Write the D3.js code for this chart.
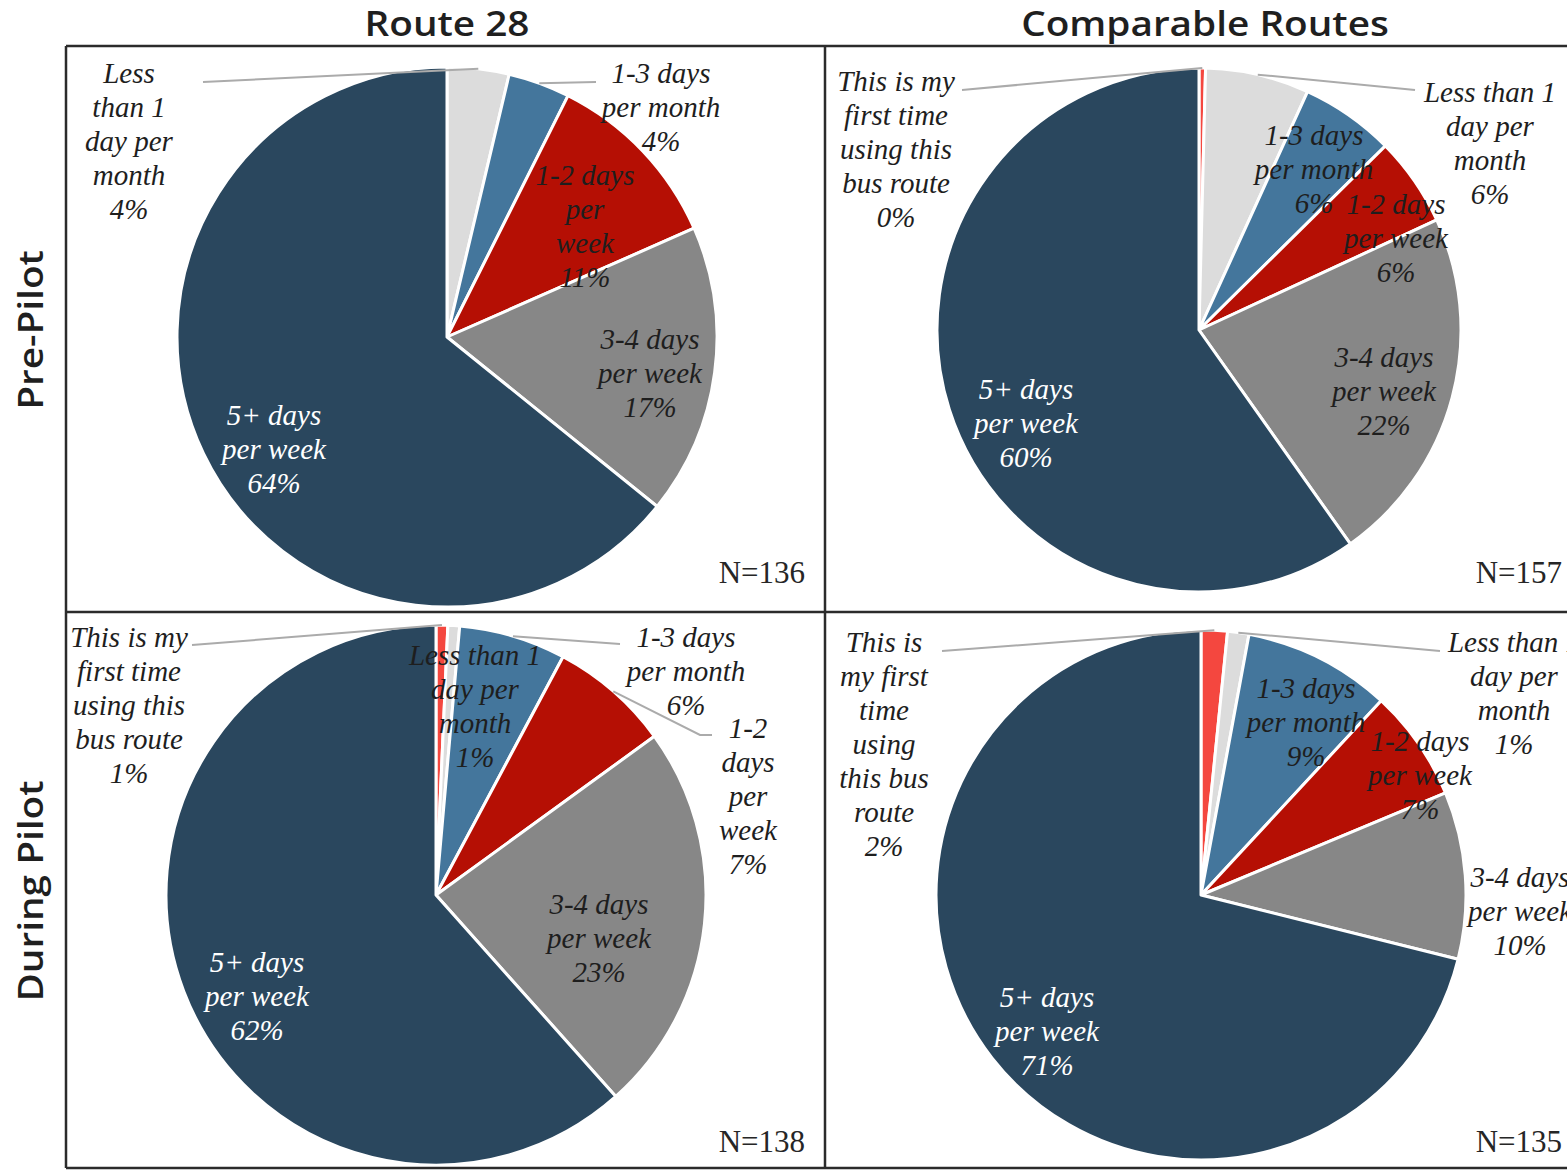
<!DOCTYPE html>
<html>
<head>
<meta charset="utf-8">
<script src="https://cdn.jsdelivr.net/npm/d3@7"></script>
<style>
  html, body { margin: 0; padding: 0; background: #fff; }
  svg { display: block; }
</style>
</head>
<body>
<svg id="chart" width="1567" height="1171"></svg>
<script>
// ---------------- DATA ----------------
const categories = [
  "This is my first time using this bus route",
  "Less than 1 day per month",
  "1-3 days per month",
  "1-2 days per week",
  "3-4 days per week",
  "5+ days per week"
];
const columnTitles = ["Route 28", "Comparable Routes"];
const rowTitles = ["Pre-Pilot", "During Pilot"];

// percent shares (null = category not present)
const route28Pre      = [null, 3.7, 3.7, 11.0, 17.4, 64.2];
const comparablePre   = [0.4, 6.4, 5.8, 5.5, 22.1, 59.8];
const route28During   = [0.7, 0.7, 6.4, 7.2, 23.4, 61.6];
const comparableDuring= [1.6, 1.3, 9.0, 6.8, 10.2, 71.1];
const sampleSizes = [136, 157, 138, 135];

// ---------------- STYLE / LAYOUT ----------------
const colors = ["#F4473F", "#DCDCDC", "#44769C", "#B50F04", "#878787", "#2A475E"];
const seriesList = [route28Pre, comparablePre, route28During, comparableDuring];

// label wrapping per panel (text layout)
const wraps = [
  [null, ["Less","than 1","day per","month"], ["1-3 days","per month"], ["1-2 days","per","week"], ["3-4 days","per week"], ["5+ days","per week"]],
  [["This is my","first time","using this","bus route"], ["Less than 1","day per","month"], ["1-3 days","per month"], ["1-2 days","per week"], ["3-4 days","per week"], ["5+ days","per week"]],
  [["This is my","first time","using this","bus route"], ["Less than 1","day per","month"], ["1-3 days","per month"], ["1-2","days","per","week"], ["3-4 days","per week"], ["5+ days","per week"]],
  [["This is","my first","time","using","this bus","route"], ["Less than 1","day per","month"], ["1-3 days","per month"], ["1-2 days","per week"], ["3-4 days","per week"], ["5+ days","per week"]]
];
// pie centre (absolute) and radius
const pieGeom = [
  {cx: 447, cy: 337, r: 270},
  {cx: 1199, cy: 330, r: 262},
  {cx: 436, cy: 895, r: 270},
  {cx: 1201, cy: 895, r: 265}
];
// label offsets from pie centre (first line), optional leader points
const labelPos = [
  [null, {x:-318,y:-264, lead:[[-244,-255]]}, {x:214,y:-264, lead:[[149,-255]]}, {x:138,y:-162}, {x:203,y:2}, {x:-173,y:78}],
  [{x:-303,y:-249, lead:[[-237,-240]]}, {x:291,y:-238, lead:[[216,-240]]}, {x:115,y:-195}, {x:197,y:-126}, {x:185,y:27}, {x:-173,y:59}],
  [{x:-307,y:-258, lead:[[-244,-250]]}, {x:39,y:-240}, {x:250,y:-258, lead:[[184,-251]]}, {x:312,y:-167, lead:[[264,-160],[276,-160]]}, {x:163,y:9}, {x:-179,y:67}],
  [{x:-317,y:-253, lead:[[-259,-244]]}, {x:313,y:-253, lead:[[239,-244]]}, {x:105,y:-207}, {x:219,y:-154}, {x:319,y:-18}, {x:-154,y:102}]
];

const gridX = [66, 825, 1584];
const gridY = [46, 612, 1168];
const nBaselineOffset = [29, 16];

const labelFont = "'Liberation Serif', 'DejaVu Serif', serif";
const titleFont = "'Open Sans', 'DejaVu Sans', sans-serif";
const fs = 29, lh = 34;

const svg = d3.select("#chart");

// column titles
svg.selectAll("text.coltitle").data(columnTitles).join("text")
  .attr("class", "coltitle")
  .attr("transform", (d, i) => `translate(${i === 0 ? 447 : 1205}, 36) scale(1.14, 1)`)
  .attr("text-anchor", "middle")
  .attr("font-family", titleFont).attr("font-weight", 600).attr("font-size", 34)
  .attr("fill", "#1f1f1f")
  .text(d => d);

// row titles
svg.selectAll("text.rowtitle").data(rowTitles).join("text")
  .attr("class", "rowtitle")
  .attr("transform", (d, i) => `translate(43, ${i === 0 ? 330 : 891}) rotate(-90) scale(1.14, 1)`)
  .attr("text-anchor", "middle")
  .attr("font-family", titleFont).attr("font-weight", 600).attr("font-size", 34)
  .attr("fill", "#1f1f1f")
  .text(d => d);

const pie = d3.pie().sort(null).value(d => d.value);
const plot = svg.append("g");

seriesList.forEach((series, p) => {
  const g0 = pieGeom[p];
  const entries = series.map((v, i) => ({cat: i, value: v})).filter(d => d.value !== null);
  const arcs = pie(entries);
  const arc = d3.arc().innerRadius(0).outerRadius(g0.r);
  const edgeArc = d3.arc().innerRadius(g0.r).outerRadius(g0.r);
  const g = plot.append("g").attr("transform", `translate(${g0.cx},${g0.cy})`);

  g.selectAll("path.slice").data(arcs).join("path")
    .attr("class", "slice")
    .attr("d", arc)
    .attr("fill", d => colors[d.data.cat])
    .attr("stroke", "#fff").attr("stroke-width", 3).attr("stroke-linejoin", "round");

  // leader lines
  arcs.forEach(a => {
    const lp = labelPos[p][a.data.cat];
    if (lp && lp.lead) {
      const start = edgeArc.centroid(a);
      const pts = [start].concat(lp.lead);
      g.append("path")
        .attr("d", d3.line()(pts))
        .attr("fill", "none").attr("stroke", "#ABABAB").attr("stroke-width", 2);
    }
  });

  // labels
  arcs.forEach(a => {
    const lp = labelPos[p][a.data.cat];
    if (!lp) return;
    const lines = wraps[p][a.data.cat].concat([Math.round(a.data.value) + "%"]);
    const t = g.append("text")
      .attr("font-family", labelFont).attr("font-style", "italic").attr("font-size", fs)
      .attr("text-anchor", "middle")
      .attr("fill", a.data.cat === 5 ? "#ffffff" : "#1e1e1e");
    lines.forEach((ln, k) => {
      t.append("tspan").attr("x", lp.x).attr("y", lp.y + k * lh).attr("dy", "0.33em").text(ln);
    });
  });

  // N label
  const col = p % 2, row = Math.floor(p / 2);
  svg.append("text")
    .attr("x", col === 0 ? gridX[1] - 20 : 1562)
    .attr("y", gridY[row + 1] - nBaselineOffset[row])
    .attr("text-anchor", "end")
    .attr("font-family", labelFont).attr("font-size", 31)
    .attr("fill", "#262626")
    .text("N=" + sampleSizes[p]);
});

// grid borders
const border = svg.append("g").attr("stroke", "#2b2b2b").attr("stroke-width", 2.5).attr("fill", "none");
gridY.forEach(y => border.append("line").attr("x1", gridX[0]).attr("x2", 1600).attr("y1", y).attr("y2", y));
gridX.forEach(x => border.append("line").attr("x1", x).attr("x2", x).attr("y1", gridY[0]).attr("y2", gridY[2]));
</script>
</body>
</html>
